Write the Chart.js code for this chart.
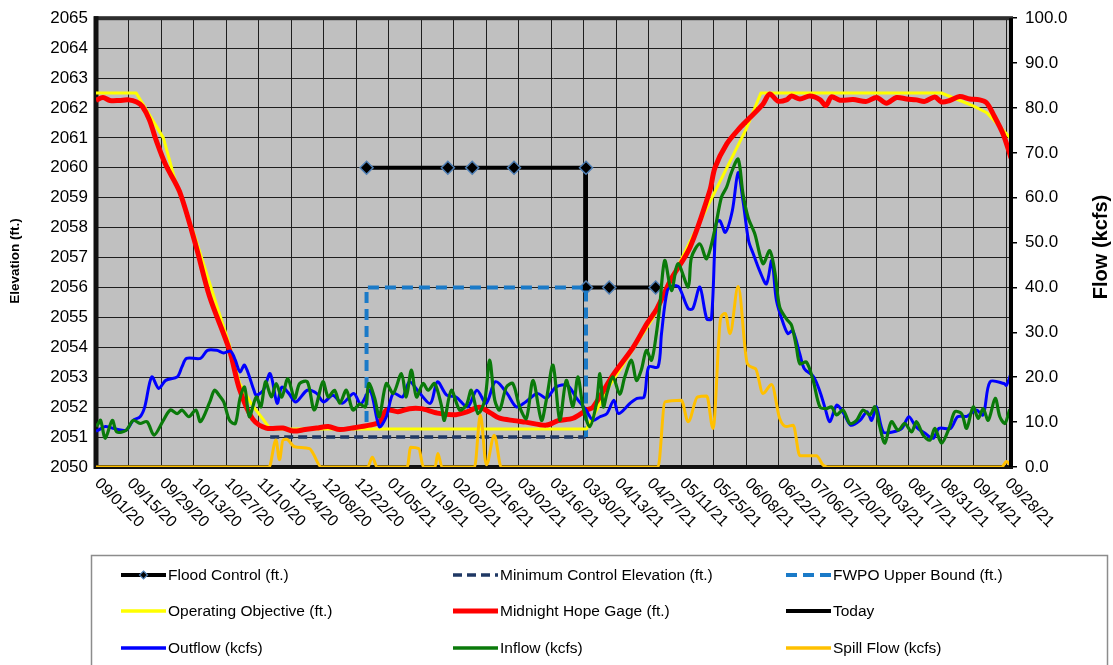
<!DOCTYPE html>
<html>
<head>
<meta charset="utf-8">
<script src="https://cdn.jsdelivr.net/npm/chart.js@4.4.1/dist/chart.umd.min.js"></script>
<style>
  html, body { margin: 0; padding: 0; background: #ffffff; }
  canvas { display: block; }
</style>
</head>
<body>
<canvas id="chart" width="1113" height="665"></canvas>
<script>
// x values are days counted from 09/01/20
const xTickLabels = ['09/01/20','09/15/20','09/29/20','10/13/20','10/27/20','11/10/20','11/24/20','12/08/20',
  '12/22/20','01/05/21','01/19/21','02/02/21','02/16/21','03/02/21','03/16/21','03/30/21','04/13/21',
  '04/27/21','05/11/21','05/25/21','06/08/21','06/22/21','07/06/21','07/20/21','08/03/21','08/17/21',
  '08/31/21','09/14/21','09/28/21'];
const tickStepDays = 14;
const lastDay = 394;

// Elevation series (ft.) as [day, elevation]
const floodControl = [[116.5,2060],[151.5,2060],[162,2060],[180,2060],[211,2060],[211,2056],[221,2056],[241,2056]];
const minControl = [[75,2051],[211,2051]];
const fwpoUpper = [[116.5,2051.5],[116.5,2056],[211,2056],[211,2051]];
const operatingObjective = [[0,2062.5],[17.3,2062.5],[29,2061.0],[34,2059.6],[43,2057.6],[52,2055.4],[57,2054.2],
  [61.8,2052.8],[67,2052.1],[71.9,2051.6],[75,2051.27],[211.2,2051.27],[221,2052.7],[240,2055.0],[253,2057.1],
  [280,2061.3],[286.3,2062.5],[364,2062.5],[377.7,2062.07],[383.6,2061.84],[394,2060.97]];
const hopeGage = [[0,2062.26],[3,2062.35],[6,2062.25],[10,2062.25],[14,2062.27],[17.5,2062.2],[20,2062.05],
  [23,2061.6],[26,2060.9],[30,2060.1],[36,2059.2],[43,2057.4],[48.9,2055.7],[57.5,2053.9],[61.8,2052.6],
  [67.5,2051.6],[73.3,2051.3],[80.5,2051.3],[85,2051.2],[90,2051.25],[95,2051.3],[100,2051.35],[105,2051.25],
  [110,2051.3],[117.8,2051.4],[122,2051.5],[125,2051.9],[130,2051.85],[135,2051.95],[140,2051.95],[147,2051.8],
  [155,2051.75],[160,2051.85],[165,2052.0],[170,2051.8],[173.8,2051.63],[180,2051.55],[185,2051.5],
  [193.9,2051.4],[199,2051.55],[205.4,2051.63],[211.2,2051.9],[214,2052.0],[222.6,2053.07],[231.3,2054.0],
  [237.3,2054.8],[241.6,2055.3],[247.3,2056.23],[255.7,2057.33],[264.3,2059.23],[266.5,2060.0],[271.6,2060.8],
  [277.2,2061.33],[281.5,2061.67],[287.2,2062.13],[290.1,2062.47],[293.6,2062.23],[297.3,2062.27],
  [299.5,2062.4],[303.1,2062.3],[307.4,2062.4],[311.7,2062.28],[314.3,2062.08],[316.7,2062.37],[320.3,2062.26],
  [326,2062.28],[331.8,2062.22],[336.1,2062.35],[340.4,2062.16],[344.7,2062.35],[349,2062.3],[353.3,2062.27],
  [356.9,2062.22],[361.2,2062.37],[364.1,2062.2],[367.6,2062.25],[371.9,2062.38],[376.2,2062.3],
  [380.5,2062.27],[383.5,2062.17],[386.3,2061.8],[390.6,2061.13],[394,2060.33]];
const today = [[394,2050],[394,2065]];

// Flow series (kcfs) as [day, flow]
const outflow = [[0,8.0],[1,8.2],[4,9.0],[9,8.4],[13,8.2],[16,10.4],[19,11.2],[21,13.4],[24,20.1],[27,17.5],
  [30,19.3],[35,20.1],[37,22.3],[39,24.2],[45,24.2],[48,26],[52,26],[55,25.4],[58,25.8],[60,23.8],[62,21.2],
  [64,22.7],[68,17.1],[69,16],[72,17.1],[75,20.8],[78,14.2],[80,17.8],[83,16.4],[86,14.5],[91,17.1],[95,16.4],
  [98,14.5],[102,16],[106,14.2],[111,16.4],[114,14],[118,17.1],[122,9.0],[125,11.2],[128,16.4],[132,15.6],
  [135,19],[139,16.7],[144,14.2],[147,19],[151,16],[155,15.6],[160,13.4],[164,17.1],[168,14.2],[172,19],
  [177,16.4],[181,13.4],[185,14.5],[190,16.4],[194,15.3],[198,17.8],[203,18.2],[207,15.3],[211,12.7],
  [214,10.4],[217,11.2],[220,11.9],[223,14.9],[225,11.9],[230,14.2],[233,15.3],[236,15.6],[238,22.3],
  [242,22.3],[243.5,29.7],[246,39.3],[248.5,40.4],[251,40.1],[255,35.3],[257,35.3],[260,40.1],[263,33],
  [265,33],[267,54.2],[268.6,54.9],[271,52.3],[274,57.1],[276.5,65.6],[278.6,59.3],[281,50.4],[283,47.5],
  [286,43.4],[288.7,40.8],[291,46],[293,37.1],[296,31.9],[298,29.7],[300,30.4],[303,25.3],[305,21.9],
  [309,20.1],[312,16.4],[314,13],[316,10.1],[319,13.8],[322,11.9],[325,9.3],[329,10.4],[332,12.3],[334,10.4],
  [336,13.4],[339,7.8],[343,7.8],[347,8.6],[350,11.2],[353,9.0],[357,7.5],[360.5,6.4],[363,8.6],[368,8.6],
  [371,11.2],[375,11.3],[379,12.7],[382,11.6],[385,19],[391,18.6],[392,18.2],[394,20.8]];
const inflow = [[0,9.0],[1,9.7],[2,10.4],[4,6.4],[7,10.4],[9,7.8],[13,8.2],[16,10.4],[19,9.7],[22,10.1],
  [25,7.1],[29,10.4],[32,12.7],[35,11.9],[37,12.7],[40,11.2],[43,12.7],[45,10.1],[49,14.5],[51,17.1],[53,16],
  [55,14.5],[57.5,10.4],[60,9.7],[62,15.3],[64,17.8],[66,11.2],[69,15.6],[71,13.4],[73,19],[75.5,15.6],
  [77.6,18.6],[80,15.6],[82.6,19.7],[85.5,15.3],[87.7,18.6],[91,19],[94,12.7],[97.7,19],[100,15.6],
  [102.7,17.1],[105,14.2],[107.8,17.1],[110.6,12.7],[113.5,14],[116,13.4],[117.5,18.6],[120,15.3],[122,11.2],
  [125,18.6],[128,16.4],[131.5,20.8],[133.6,15.6],[135.8,21.6],[138,15.6],[140.8,18.6],[143,17.1],
  [145.8,18.6],[148.7,13.8],[150,10.4],[153,17.1],[156.6,12.7],[159.5,13.8],[161.6,17.1],[164.5,11.9],
  [167.4,14.9],[169.5,23.8],[171.7,14.9],[173.8,12.7],[176.7,17.8],[179.5,18.6],[182.4,13.4],[185.3,10.8],
  [188.2,19.3],[191.8,10.4],[193.9,14.9],[196.8,22.7],[199.7,10.4],[202.5,19.3],[205.4,13.4],[207.5,20.1],
  [209.7,13.4],[212.6,9.0],[215.5,14.2],[217,20.8],[218.5,13.4],[220,16.4],[222.6,20.1],[225.5,16.2],
  [227.7,20.1],[230.6,23.8],[232.7,19.3],[234.8,21.6],[237,26],[239.2,23.8],[241.3,29.7],[242.7,35.6],
  [244.9,46],[247.8,39.3],[250.6,45.3],[255,40.1],[256.4,46.7],[260,49.7],[262.9,46.4],[266.4,52.7],
  [269.3,60.1],[271.5,62.3],[273.6,65.6],[276.5,68.6],[278.6,60.8],[280.8,55.6],[283.7,51.9],[287.2,45.3],
  [290.1,48.2],[292.3,43.5],[294.4,35.6],[297.3,33],[299.5,31.6],[301.6,26.7],[303.1,23],[305.9,23.4],
  [308.8,19.3],[311.7,13.4],[314.5,13],[316.7,13.4],[318.9,11.6],[321.7,12.7],[324.6,9.7],[327.5,10.4],
  [330.3,12.7],[333.2,11.6],[335.4,13.4],[337.5,9.0],[339.7,5.3],[342.5,10.1],[345.4,8.2],[348.3,9.7],
  [351.2,7.8],[353.3,10.1],[356.2,7.1],[359.1,6.0],[361.2,8.6],[364.1,5.3],[367.6,9.0],[369.8,12.3],
  [372.7,11.9],[374.9,8.6],[377.7,13.4],[379.9,10.8],[382,13],[384.2,10.4],[387.2,15.3],[389.2,11.2],
  [391.4,9.7],[393.5,12.7],[394,8.2]];
const spill = [[0,0],[74.5,0],[77.5,6],[79,1.6],[80.5,6],[82,6.2],[85.5,4.5],[92,4.1],[93.5,3],[97,0],
  [117,0],[119,2.2],[121,0],[134,0],[135.5,4.4],[139,4.1],[141,0],[146,0],[147.2,3],[149,0],[163,0],[165.5,11.6],
  [168.1,0.5],[171.5,7.1],[174.5,0],[242,0],[245,14.5],[252,14.9],[255,10.1],[259,15.6],[263,15.8],[265.7,8.6],
  [269,33.2],[271,34.2],[273,29.7],[276.5,40.2],[280.5,23],[284,21.9],[287.2,16.4],[290.9,18.4],[294.4,10.8],
  [297.3,9.0],[300.2,9.3],[303.1,2.5],[310.2,2.5],[313.1,0.4],[315,0],[390,0],[392.1,1.2],[394,0.3]];

const toPoints = rows => rows.map(([x, y]) => ({ x, y }));
const FONT = '"Liberation Sans", Arial, Helvetica, sans-serif';

const datasets = [
  { label: 'Flood Control (ft.)', data: toPoints(floodControl), yAxisID: 'y', borderColor: '#000000',
    borderWidth: 4, tension: 0, pointStyle: 'rectRot', pointRadius: 6.5, pointBackgroundColor: '#000000',
    pointBorderColor: '#4f7fb5', pointBorderWidth: 1.5, order: 8 },
  { label: 'Minimum Control Elevation (ft.)', data: toPoints(minControl), yAxisID: 'y', borderColor: '#1f3864',
    borderWidth: 3.5, borderDash: [9, 5], tension: 0, pointRadius: 0, order: 7 },
  { label: 'FWPO Upper Bound (ft.)', data: toPoints(fwpoUpper), yAxisID: 'y', borderColor: '#1a7ac8',
    borderWidth: 4, borderDash: [11, 6], tension: 0, pointRadius: 0, order: 6 },
  { label: 'Operating Objective (ft.)', data: toPoints(operatingObjective), yAxisID: 'y', borderColor: '#ffff00',
    borderWidth: 3, tension: 0, pointRadius: 0, order: 5 },
  { label: 'Midnight Hope Gage (ft.)', data: toPoints(hopeGage), yAxisID: 'y', borderColor: '#ff0000',
    borderWidth: 5, tension: 0.3, pointRadius: 0, order: 4 },
  { label: 'Today', data: toPoints(today), yAxisID: 'y', borderColor: '#000000', borderWidth: 4,
    tension: 0, pointRadius: 0, clip: 4, order: 0 },
  { label: 'Outflow (kcfs)', data: toPoints(outflow), yAxisID: 'y1', borderColor: '#0000ff',
    borderWidth: 3, tension: 0.3, pointRadius: 0, order: 3 },
  { label: 'Inflow (kcfs)', data: toPoints(inflow), yAxisID: 'y1', borderColor: '#0a7a0a',
    borderWidth: 3.2, tension: 0.3, pointRadius: 0, order: 2 },
  { label: 'Spill Flow (kcfs)', data: toPoints(spill), yAxisID: 'y1', borderColor: '#ffc000',
    borderWidth: 3, cubicInterpolationMode: 'monotone', pointRadius: 0, order: 1 }
];
datasets.forEach(d => { d.fill = false; d.backgroundColor = d.borderColor; });

const decorations = {
  id: 'decorations',
  beforeDraw(chart) {
    const { ctx, chartArea: a } = chart;
    ctx.save();
    ctx.fillStyle = '#c0c0c0';
    ctx.fillRect(a.left, a.top, a.right - a.left, a.bottom - a.top);
    ctx.restore();
  },
  beforeDatasetsDraw(chart) {
    const { ctx, chartArea: a } = chart;
    ctx.save();
    ctx.strokeStyle = '#2e2e2e';
    ctx.lineWidth = 4;
    ctx.strokeRect(a.left, a.top, a.right - a.left, a.bottom - a.top);
    ctx.fillStyle = '#111111';
    ctx.fillRect(a.left - 2.5, a.top - 2, 5, a.bottom - a.top + 4);
    ctx.fillRect(a.left - 2, a.bottom - 2, a.right - a.left + 4, 4);
    ctx.restore();
  },
  afterDraw(chart) {
    const { ctx, chartArea: a, scales } = chart;
    ctx.save();
    // rotated date labels
    ctx.fillStyle = '#000000';
    ctx.font = '16px ' + FONT;
    ctx.textAlign = 'left';
    ctx.textBaseline = 'middle';
    xTickLabels.forEach((lab, i) => {
      const px = scales.x.getPixelForValue(i * tickStepDays);
      ctx.save();
      ctx.translate(px + 1, a.bottom + 14);
      ctx.rotate(Math.PI / 4);
      ctx.fillText(lab, 0, 0);
      ctx.restore();
    });
    // axis titles
    ctx.textAlign = 'center';
    ctx.save();
    ctx.font = 'bold 13.5px ' + FONT;
    ctx.translate(15, 261);
    ctx.rotate(-Math.PI / 2);
    ctx.fillText('Elevation (ft.)', 0, 0);
    ctx.restore();
    ctx.save();
    ctx.font = 'bold 20px ' + FONT;
    ctx.translate(1101, 247);
    ctx.rotate(-Math.PI / 2);
    ctx.fillText('Flow (kcfs)', 0, 0);
    ctx.restore();

    // legend box
    ctx.strokeStyle = '#8c8c8c';
    ctx.lineWidth = 1.5;
    ctx.strokeRect(91.5, 555.5, 1016, 120);
    const cols = [121, 453, 786];
    const rows = [575, 611, 648];
    const sampleLen = 45;
    ctx.textAlign = 'left';
    ctx.textBaseline = 'middle';
    chart.data.datasets.forEach((d, i) => {
      const x0 = cols[i % 3], y0 = rows[Math.floor(i / 3)];
      ctx.save();
      ctx.strokeStyle = d.borderColor;
      ctx.lineWidth = Math.max(d.borderWidth, 3.5);
      ctx.setLineDash(d.borderDash || []);
      ctx.beginPath();
      ctx.moveTo(x0, y0);
      ctx.lineTo(x0 + sampleLen, y0);
      ctx.stroke();
      ctx.setLineDash([]);
      if (d.pointStyle === 'rectRot') {
        const cx = x0 + sampleLen / 2, r = 4;
        ctx.beginPath();
        ctx.moveTo(cx, y0 - r); ctx.lineTo(cx + r, y0); ctx.lineTo(cx, y0 + r); ctx.lineTo(cx - r, y0);
        ctx.closePath();
        ctx.fillStyle = d.pointBackgroundColor;
        ctx.fill();
        ctx.lineWidth = 1.2;
        ctx.strokeStyle = d.pointBorderColor;
        ctx.stroke();
      }
      ctx.restore();
      ctx.fillStyle = '#000000';
      ctx.font = '15.5px ' + FONT;
      ctx.fillText(d.label, x0 + sampleLen + 2, y0 + 1);
    });
    ctx.restore();
  }
};

new Chart(document.getElementById('chart'), {
  type: 'line',
  data: { datasets },
  plugins: [decorations],
  options: {
    responsive: false,
    animation: false,
    devicePixelRatio: 1,
    layout: { padding: { top: 17, left: 0, right: 0, bottom: 0 } },
    plugins: { legend: { display: false }, tooltip: { enabled: false } },
    elements: { line: { borderCapStyle: 'butt', borderJoinStyle: 'round' } },
    scales: {
      x: {
        type: 'linear', min: 0, max: lastDay,
        afterBuildTicks: scale => {
          scale.ticks = xTickLabels.map((_, i) => ({ value: i * tickStepDays }));
        },
        afterFit: scale => { scale.height = 198; },
        ticks: { display: false },
        grid: { color: '#1e1e1e', lineWidth: 1, drawTicks: false },
        border: { display: false }
      },
      y: {
        position: 'left', min: 2050, max: 2065,
        afterFit: scale => { scale.width = 96; },
        ticks: { stepSize: 1, color: '#000000', padding: 8, font: { family: FONT, size: 17 },
                 callback: v => String(v) },
        grid: { color: '#1e1e1e', lineWidth: 1, drawTicks: false },
        border: { display: false }
      },
      y1: {
        position: 'right', min: 0, max: 100,
        afterFit: scale => { scale.width = 102; },
        ticks: { stepSize: 10, color: '#000000', padding: 8, font: { family: FONT, size: 17 },
                 callback: v => Number(v).toFixed(1) },
        grid: { drawOnChartArea: false, drawTicks: true, tickLength: 6, color: '#000000', lineWidth: 1.5 },
        border: { display: false }
      }
    }
  }
});
</script>
</body>
</html>
